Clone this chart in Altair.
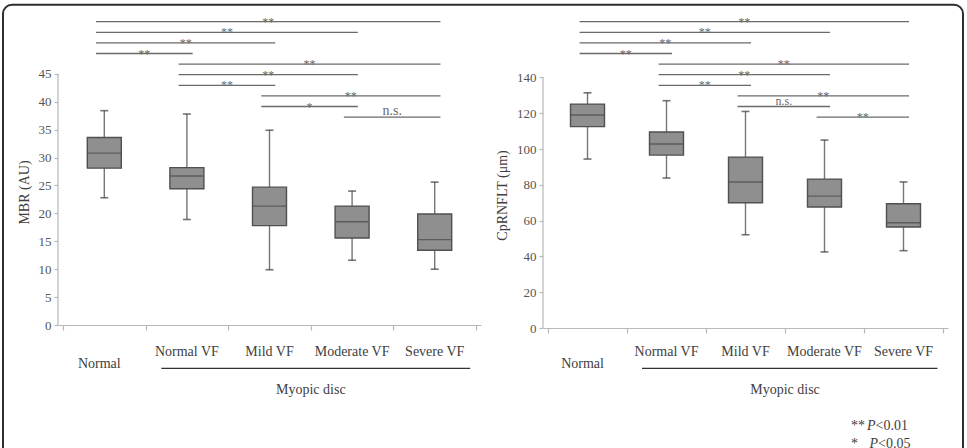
import altair as alt
import pandas as pd

# Groups shown on both panels
groups = ["Normal", "Normal VF", "Mild VF", "Moderate VF", "Severe VF"]

# MBR (AU): whisker ends, quartiles and medians
mbr_min = [22.8, 18.9, 9.9, 11.6, 10.0]
mbr_q1 = [28.1, 24.4, 17.8, 15.6, 13.4]
mbr_med = [30.8, 26.7, 21.3, 18.5, 15.3]
mbr_q3 = [33.6, 28.2, 24.7, 21.3, 19.9]
mbr_max = [38.4, 37.8, 34.9, 24.0, 25.6]

# CpRNFLT (μm): whisker ends, quartiles and medians
rnfl_min = [94.4, 83.8, 52.1, 42.5, 43.2]
rnfl_q1 = [112.5, 96.6, 70.0, 67.6, 56.4]
rnfl_med = [119.0, 102.8, 81.6, 73.7, 58.8]
rnfl_q3 = [125.1, 109.5, 95.5, 83.2, 69.4]
rnfl_max = [131.4, 127.0, 121.0, 105.0, 81.6]

# Pairwise comparisons (group indices) and their significance marks
pair_from = [0, 0, 0, 0, 1, 1, 1, 2, 2, 3]
pair_to = [4, 3, 2, 1, 4, 3, 2, 4, 3, 4]
mbr_sig = ["**", "**", "**", "**", "**", "**", "**", "**", "*", "n.s."]
rnfl_sig = ["**", "**", "**", "**", "**", "**", "**", "**", "n.s.", "**"]

mbr_ticks = [0, 5, 10, 15, 20, 25, 30, 35, 40, 45]
rnfl_ticks = [0, 20, 40, 60, 80, 100, 120, 140]

SERIF = "Liberation Serif"
BOX_FILL = "#8f8f8f"
BOX_STROKE = "#505050"
WHISKER = "#767676"
CAP = "#3a3a3a"
AXIS_GRAY = "#b8b8b8"
TEXT = "#404040"
BRACKET = "#6a6a6a"


def box_table(lo, q1, med, q3, hi):
    return pd.DataFrame({
        "group": groups,
        "idx": list(range(len(groups))),
        "pos": [i + 0.5 for i in range(len(groups))],
        "lo": lo, "q1": q1, "med": med, "q3": q3, "hi": hi,
    })


def bracket_table(sigs, ymax, height):
    # stacked comparison bars above the boxes, one row per rank
    ppu = height / ymax
    rows = []
    for rank, (a, b, s) in enumerate(zip(pair_from, pair_to, sigs)):
        x1 = a + 0.4
        x2 = b + 0.57
        y = ymax - (8.7 + 10.6 * rank) / ppu
        rows.append({"x1": x1, "x2": x2, "xm": (x1 + x2) / 2, "y": y, "sig": s})
    return pd.DataFrame(rows)


def panel(box, brackets, ymax, height, width, ticks, title, title_y,
          frame=False, legend=False, ns_size=13):
    xs = alt.Scale(domain=[0, 5], nice=False, zero=False)
    ys = alt.Scale(domain=[0, ymax], nice=False, zero=True)
    x_axis = alt.Axis(values=[0, 1, 2, 3, 4, 5], labels=False, title=None,
                      grid=False, tickSize=5, tickColor=AXIS_GRAY,
                      domainColor=AXIS_GRAY, domainWidth=1.2, tickWidth=1.2)
    y_axis = alt.Axis(values=ticks, title=title, grid=False, domain=False,
                      tickSize=4, tickColor=AXIS_GRAY, tickWidth=1.2,
                      labelPadding=3, labelFontSize=13, labelColor="#555555",
                      titleFontSize=14, titleFontWeight="normal",
                      titleColor=TEXT, titlePadding=7, titleY=title_y)

    def X(field):
        return alt.X(field, type="quantitative", scale=xs, axis=x_axis)

    def Y(field):
        return alt.Y(field, type="quantitative", scale=ys, axis=y_axis)

    base = alt.Chart(box)
    layers = []

    # visible y-axis line only over the tick range
    axis_line = alt.Chart(pd.DataFrame({"a": [ticks[0]], "b": [ticks[-1]]})).mark_rule(
        color=AXIS_GRAY, strokeWidth=1.2
    ).encode(x=alt.value(0), y=Y("a"), y2="b:Q")
    layers.append(axis_line)

    whisker = base.mark_rule(color=WHISKER, strokeWidth=1.4).encode(
        x=X("pos"), y=Y("lo"), y2="hi:Q")
    cap_hi = base.mark_tick(orient="horizontal", size=8, thickness=1.6, color=CAP).encode(
        x=X("pos"), y=Y("hi"))
    cap_lo = base.mark_tick(orient="horizontal", size=8, thickness=1.6, color=CAP).encode(
        x=X("pos"), y=Y("lo"))
    boxes = base.mark_bar(size=34, color=BOX_FILL, stroke=BOX_STROKE, strokeWidth=1.4).encode(
        x=X("pos"), y=Y("q1"), y2="q3:Q")
    medians = base.mark_tick(orient="horizontal", size=33, thickness=1.4, color="#474747").encode(
        x=X("pos"), y=Y("med"))
    layers += [whisker, cap_hi, cap_lo, boxes, medians]

    # significance brackets
    br = alt.Chart(brackets)
    br_lines = br.mark_rule(color=BRACKET, strokeWidth=1.3).encode(
        x=X("x1"), x2="x2:Q", y=Y("y"))
    stars = br.transform_filter(alt.datum.sig != "n.s.").mark_text(
        font=SERIF, fontSize=12, color=BRACKET, baseline="alphabetic", dy=4
    ).encode(x=X("xm"), y=Y("y"), text="sig:N")
    ns = br.transform_filter(alt.datum.sig == "n.s.").mark_text(
        font=SERIF, fontSize=ns_size, color=BRACKET, baseline="alphabetic", dy=-2
    ).encode(x=X("xm"), y=Y("y"), text="sig:N")
    layers += [br_lines, stars, ns]

    # category labels below the axis
    lab_normal = base.transform_filter(alt.datum.idx == 0).mark_text(
        font=SERIF, fontSize=14, color=TEXT, baseline="middle", dx=-5
    ).encode(x=X("pos"), y=alt.value(350.7), text="group:N")
    lab_myopic = base.transform_filter(alt.datum.idx > 0).mark_text(
        font=SERIF, fontSize=14, color=TEXT, baseline="middle"
    ).encode(x=X("pos"), y=alt.value(339.4), text="group:N")
    layers += [lab_normal, lab_myopic]

    grp = alt.Chart(pd.DataFrame({"a": [1.19], "b": [4.93], "m": [3.0], "t": ["Myopic disc"]}))
    underline = grp.mark_rule(color="#333333", strokeWidth=1.4).encode(
        x=X("a"), x2="b:Q", y=alt.value(355.4))
    grp_label = grp.mark_text(font=SERIF, fontSize=14, color=TEXT, baseline="middle").encode(
        x=X("m"), y=alt.value(376.7), text="t:N")
    layers += [underline, grp_label]

    if legend:
        leg = alt.Chart(pd.DataFrame({
            "mark": ["**", "*"], "p": ["P", "P"], "lim": ["<0.01", "<0.05"],
            "row": [0, 1],
        }))
        for row, yv, px, lx in [(0, 412.7, 324, 332.5), (1, 431.0, 326.5, 335)]:
            sub = leg.transform_filter(alt.datum.row == row)
            layers.append(sub.mark_text(font=SERIF, fontSize=14, color=TEXT, align="left",
                                        baseline="middle").encode(
                x=alt.value(308), y=alt.value(yv), text="mark:N"))
            layers.append(sub.mark_text(font=SERIF, fontSize=14, color=TEXT, align="left",
                                        baseline="middle", fontStyle="italic").encode(
                x=alt.value(px), y=alt.value(yv), text="p:N"))
            layers.append(sub.mark_text(font=SERIF, fontSize=14, color=TEXT, align="left",
                                        baseline="middle").encode(
                x=alt.value(lx), y=alt.value(yv), text="lim:N"))

    if frame:
        border = alt.Chart(pd.DataFrame({"k": [0]})).mark_rect(
            fillOpacity=0, stroke="#2e2e2e", strokeWidth=2, cornerRadius=9
        ).encode(x=alt.value(-55), x2=alt.value(905), y=alt.value(-8.3), y2=alt.value(470))
        layers.append(border)

    return alt.layer(*layers).properties(width=width, height=height)


LEFT_H, LEFT_MAX = 312, 55.9
RIGHT_H, RIGHT_MAX = 315, 176.0

left = panel(box_table(mbr_min, mbr_q1, mbr_med, mbr_q3, mbr_max),
             bracket_table(mbr_sig, LEFT_MAX, LEFT_H),
             LEFT_MAX, LEFT_H, 423, mbr_ticks, "MBR (AU)", 179,
             frame=True, ns_size=14)
right = panel(box_table(rnfl_min, rnfl_q1, rnfl_med, rnfl_q3, rnfl_max),
              bracket_table(rnfl_sig, RIGHT_MAX, RIGHT_H),
              RIGHT_MAX, RIGHT_H, 405, rnfl_ticks, "CpRNFLT (μm)", 182,
              legend=True, ns_size=12)

chart = alt.hconcat(left, right, spacing=62, bounds="flush").properties(
    padding={"left": 2, "top": 3, "right": 3, "bottom": 0},
    background="white",
).configure_view(stroke=None).configure_axis(
    labelFont=SERIF, titleFont=SERIF
).configure_text(font=SERIF)

chart.save("out.html", embed_options={"renderer": "svg", "actions": False})
